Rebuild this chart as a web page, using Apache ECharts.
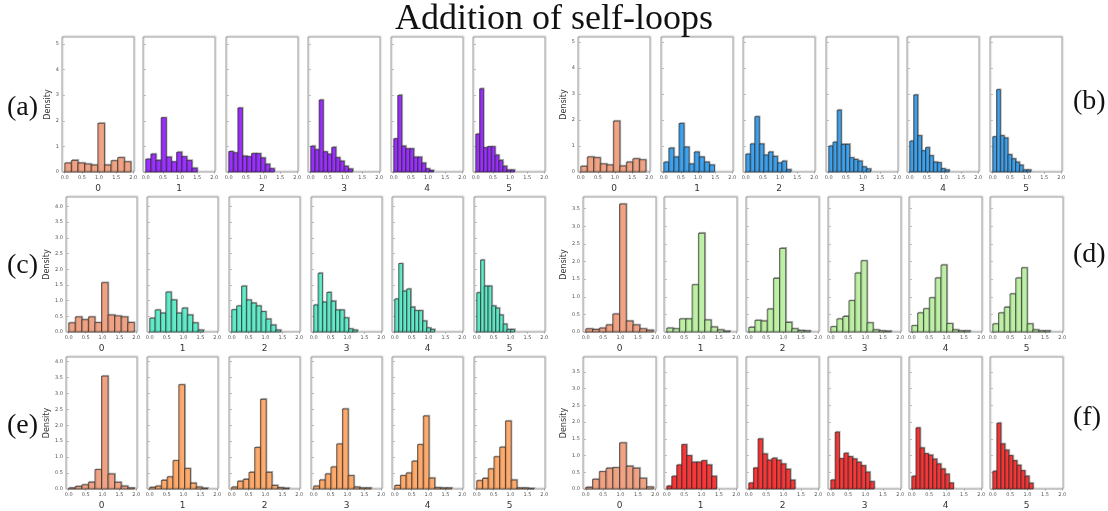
<!DOCTYPE html>
<html><head><meta charset="utf-8">
<script src="https://cdn.jsdelivr.net/npm/echarts@6/dist/echarts.min.js"></script>
<style>html,body{margin:0;padding:0;background:#fff}#c{width:1108px;height:511px}</style>
</head><body><div id="c"></div>
<script>
// ---- data (density per bin, 10 bins each starting at 0) ----
const categories = ['0','1','2','3','4','5'];
const xTicks = [0, 0.5, 1.0, 1.5, 2.0];
const yTicksAB = [0, 1, 2, 3, 4, 5];
const yTicksCE = [0, 0.5, 1.0, 1.5, 2.0, 2.5, 3.0, 3.5, 4.0];
const yTicksDF = [0, 0.5, 1.0, 1.5, 2.0, 2.5, 3.0, 3.5];

const binWidthA = [0.193, 0.150, 0.133, 0.122, 0.116, 0.113];
const histA = [
  [0.35,0.45,0.35,0.31,0.27,1.90,0.27,0.44,0.56,0.40],
  [0.50,0.70,0.45,2.12,0.58,0.40,0.77,0.60,0.45,0.15],
  [0.80,0.75,2.50,0.62,0.60,0.72,0.72,0.55,0.30,0.13],
  [1.01,0.87,2.81,0.79,0.69,0.96,0.56,0.42,0.22,0.12],
  [1.30,2.99,1.01,0.91,0.91,0.58,0.58,0.35,0.13,0.06],
  [1.48,3.25,0.95,0.99,0.99,0.66,0.45,0.22,0.08,0.08]
];
const binWidthB = [0.190, 0.148, 0.132, 0.122, 0.115, 0.111];
const histB = [
  [0.22,0.58,0.55,0.31,0.27,1.96,0.23,0.38,0.51,0.47],
  [0.38,0.92,0.58,1.87,0.96,0.31,0.77,0.58,0.38,0.27],
  [0.69,1.08,2.13,1.08,0.65,0.77,0.60,0.35,0.42,0.09],
  [1.00,1.15,2.38,1.06,1.06,0.55,0.48,0.42,0.20,0.12],
  [1.19,2.97,1.40,0.82,0.94,0.63,0.38,0.36,0.13,0.08],
  [1.36,3.17,1.40,1.31,0.67,0.51,0.38,0.26,0.08,0.08]
];
const binWidthC = [0.194, 0.159, 0.145, 0.129, 0.118, 0.112];
const histC = [
  [0.29,0.48,0.39,0.48,0.30,1.57,0.54,0.51,0.48,0.30],
  [0.44,0.70,0.60,1.27,1.02,0.60,0.76,0.54,0.29,0.06],
  [0.71,0.83,1.46,1.02,0.92,0.83,0.65,0.41,0.22,0.06],
  [0.86,1.87,0.95,1.26,0.98,0.70,0.70,0.45,0.10,0.06],
  [1.05,2.18,1.30,1.37,0.79,0.68,0.68,0.35,0.13,0.08],
  [1.25,2.29,1.46,1.46,0.83,0.76,0.54,0.25,0.08,0.08]
];
const binWidthD = [0.194, 0.182, 0.177, 0.174, 0.168, 0.165];
const histD = [
  [0.09,0.07,0.11,0.20,0.51,3.63,0.31,0.20,0.09,0.05],
  [0.11,0.09,0.37,0.37,1.34,2.80,0.34,0.14,0.06,0.02],
  [0.13,0.33,0.31,0.65,1.52,2.37,0.27,0.09,0.04,0.03],
  [0.15,0.37,0.44,0.89,1.67,2.02,0.26,0.06,0.03,0.02],
  [0.18,0.54,0.66,0.97,1.53,1.90,0.24,0.06,0.03,0.03],
  [0.23,0.54,0.70,1.08,1.53,1.82,0.23,0.06,0.03,0.03]
];
const binWidthE = [0.194, 0.172, 0.170, 0.170, 0.169, 0.170];
const histE = [
  [0.03,0.08,0.13,0.21,0.61,3.54,0.47,0.21,0.09,0.03],
  [0.05,0.09,0.27,0.38,0.89,3.27,0.64,0.18,0.06,0.02],
  [0.06,0.24,0.30,0.52,1.30,2.81,0.52,0.11,0.04,0.02],
  [0.09,0.28,0.47,0.69,1.41,2.51,0.42,0.06,0.03,0.03],
  [0.11,0.42,0.50,0.87,1.39,2.29,0.34,0.04,0.03,0.03],
  [0.26,0.33,0.63,1.01,1.31,2.13,0.28,0.03,0.03,0.01]
];
const binWidthF = [0.194, 0.143, 0.133, 0.125, 0.120, 0.116];
const histF = [
  [0.05,0.29,0.52,0.62,0.64,1.38,0.68,0.62,0.32,0.06],
  [0.09,0.38,0.72,1.33,1.00,0.80,0.80,0.85,0.72,0.38],
  [0.18,0.63,1.50,1.05,0.86,0.92,0.86,0.75,0.59,0.26],
  [0.27,1.70,0.91,1.07,0.97,0.90,0.80,0.70,0.50,0.22],
  [0.38,1.83,1.23,1.06,1.01,0.89,0.75,0.60,0.44,0.18],
  [0.53,1.97,1.35,1.16,1.00,0.85,0.71,0.55,0.38,0.17]
];

// ---- layout / style ----
const baseColor = '#EFA384';
const panels = [
  {label:'(a)', hist:histA, bw:binWidthA, color:'#9B30FF', lefts:[62,143,226,308,391,473], w:72, top:37, ymax:5.27, yt:yTicksAB, fmt:v=>String(v), lx:7,  ly:110},
  {label:'(b)', hist:histB, bw:binWidthB, color:'#40A2EC', lefts:[578,661,743,826,907,990], w:72, top:37, ymax:5.2, yt:yTicksAB, fmt:v=>String(v), lx:1073, ly:104},
  {label:'(c)', hist:histC, bw:binWidthC, color:'#62EBC9', lefts:[66,147,229,311,392,474], w:71, top:197, ymax:4.3, yt:yTicksCE, fmt:v=>v.toFixed(1), lx:7, ly:268},
  {label:'(d)', hist:histD, bw:binWidthD, color:'#BDF0A5', lefts:[583,664,746,828,909,990], w:73, top:197, ymax:3.83, yt:yTicksDF, fmt:v=>v.toFixed(1), lx:1073, ly:257},
  {label:'(e)', hist:histE, bw:binWidthE, color:'#FDAA6C', lefts:[66,147,229,311,392,474], w:71, top:357, ymax:4.14, yt:yTicksCE, fmt:v=>v.toFixed(1), lx:7, ly:428},
  {label:'(f)', hist:histF, bw:binWidthF, color:'#F83838', lefts:[583,664,746,828,909,990], w:73, top:357, ymax:3.95, yt:yTicksDF, fmt:v=>v.toFixed(1), lx:1073, ly:420}
];
const H = 135;

const grid = [], xAxis = [], yAxis = [], series = [], graphic = [];
let gi = 0;
panels.forEach(p => {
  p.lefts.forEach((left, k) => {
    grid.push({left:left, top:p.top, width:p.w, height:H, show:true, borderColor:'#9c9c9c', borderWidth:1,
      shadowColor:'rgba(0,0,0,0.18)', shadowOffsetX:1, shadowOffsetY:-1, shadowBlur:1});
    xAxis.push({type:'value', gridIndex:gi, min:-0.08, max:2.02,
      name:categories[k], nameLocation:'middle', nameGap:12,
      nameTextStyle:{fontSize:9, color:'#333', fontFamily:'DejaVu Sans'},
      axisLine:{show:false}, splitLine:{show:false},
      axisTick:{show:true, length:1.5, lineStyle:{color:'#777', width:0.6}, customValues:xTicks},
      axisLabel:{show:true, fontSize:5, color:'#555', margin:3, customValues:xTicks, formatter:v=>v.toFixed(1), fontFamily:'DejaVu Sans'}});
    yAxis.push({type:'value', gridIndex:gi, min:0, max:p.ymax,
      name: k===0 ? 'Density' : '', nameLocation:'middle', nameGap: k===0 ? 9 : 0, nameRotate:90,
      nameTextStyle:{fontSize:8, color:'#333', fontFamily:'DejaVu Sans'},
      axisLine:{show:false}, splitLine:{show:false},
      axisTick:{show:true, length:1.5, lineStyle:{color:'#777', width:0.6}, customValues:p.yt},
      axisLabel:{show:k===0, fontSize:5, color:'#555', margin:3, customValues:p.yt, formatter:p.fmt, fontFamily:'DejaVu Sans'}});
    const heights = p.hist[k], w = p.bw[k];
    const data = heights.map((h, i) => [i*w, (i+1)*w, h]);
    const fill = k===0 ? baseColor : p.color;
    series.push({type:'custom', xAxisIndex:gi, yAxisIndex:gi, data:data, encode:{x:[0,1], y:2},
      renderItem:(params, api) => {
        const a = api.coord([api.value(0), api.value(2)]);
        const b = api.coord([api.value(1), 0]);
        return {type:'rect', shape:{x:a[0], y:a[1], width:b[0]-a[0], height:b[1]-a[1]},
          style:{fill:fill, stroke:'rgba(40,40,40,0.85)', lineWidth:0.8,
            shadowColor:'rgba(0,0,0,0.22)', shadowOffsetX:1, shadowOffsetY:-1, shadowBlur:0.5}};
      }});
    gi++;
  });
  graphic.push({type:'text', left:p.lx, top:p.ly-16, style:{text:p.label, fontSize:28, fontFamily:'Liberation Serif', fill:'#111'}});
});

const chart = echarts.init(document.getElementById('c'), null, {renderer:'canvas'});
chart.setOption({
  animation:false,
  backgroundColor:'#fff',
  title:{text:'Addition of self-loops', left:'center', top:-3,
    textStyle:{fontFamily:'Liberation Serif', fontSize:36, fontWeight:'normal', color:'#111'}},
  grid, xAxis, yAxis, series, graphic
});
</script></body></html>
